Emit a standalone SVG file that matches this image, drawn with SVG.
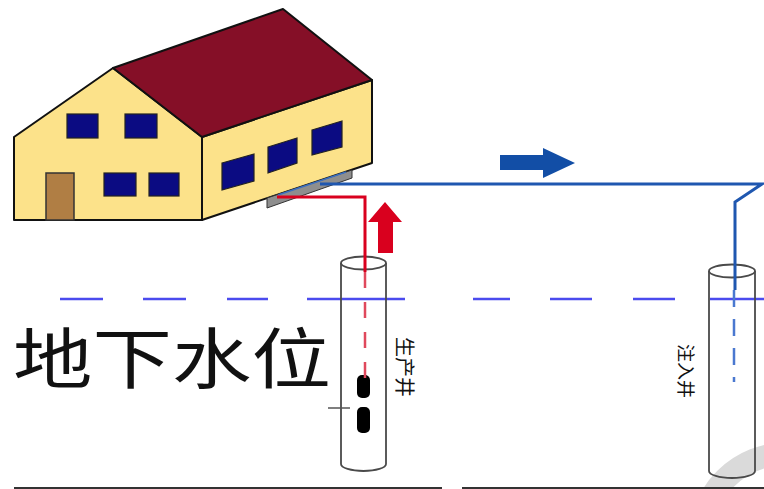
<svg xmlns="http://www.w3.org/2000/svg" width="764" height="489" viewBox="0 0 764 489">
  <style>
    .wall { fill: #fce28a; stroke: #111; stroke-width: 2; stroke-linejoin: round; }
    .roof { fill: #850f27; stroke: #111; stroke-width: 2; stroke-linejoin: round; }
    .win { fill: #0b0b82; stroke: #222; stroke-width: 1.2; }
    .well { fill: none; stroke: #4a4a4a; stroke-width: 1.8; }
    .label { font-family: "Noto Sans CJK SC", "Noto Sans", sans-serif; fill: #111; }
    .water { stroke: #4b4bee; stroke-width: 2.5; }
    .blue-pipe { fill: none; stroke: #1f57b0; stroke-width: 3; stroke-linejoin: miter; }
    .red-pipe { fill: none; stroke: #d9001e; stroke-width: 3; }
  </style>

  <rect width="764" height="489" fill="#ffffff"/>

  <!-- light grey ring in the lower right corner -->
  <circle cx="786" cy="540" r="86" fill="none" stroke="#dadada" stroke-width="23"/>

  <!-- ground line -->
  <g id="ground">
    <line x1="14" y1="488" x2="442" y2="488" stroke="#333" stroke-width="2"/>
    <line x1="462" y1="488" x2="764" y2="488" stroke="#333" stroke-width="2"/>
  </g>

  <!-- groundwater level (dashed) -->
  <g id="water-table">
    <line class="water" x1="60" y1="299" x2="103" y2="299"/>
    <line class="water" x1="143" y1="299" x2="186" y2="299"/>
    <line class="water" x1="227" y1="299" x2="268" y2="299"/>
    <line class="water" x1="307" y1="299" x2="405" y2="299"/>
    <line class="water" x1="473" y1="299" x2="510" y2="299"/>
    <line class="water" x1="550" y1="299" x2="592" y2="299"/>
    <line class="water" x1="633" y1="299" x2="675" y2="299"/>
    <line class="water" x1="710" y1="299" x2="764" y2="299"/>
  </g>

  <!-- house -->
  <g id="house">
    <!-- gable front -->
    <polygon class="wall" points="14,137 113,68 202,137 202,220 14,220"/>
    <!-- side wall -->
    <polygon class="wall" points="202,137 372,80 372,163 202,220"/>
    <!-- roof -->
    <polygon class="roof" points="113,68 283,9 372,80 202,137"/>
    <!-- front windows -->
    <rect class="win" x="67" y="114" width="31" height="24"/>
    <rect class="win" x="125" y="114" width="32" height="24"/>
    <rect class="win" x="104" y="173" width="32" height="23"/>
    <rect class="win" x="149" y="173" width="30" height="23"/>
    <!-- door -->
    <rect x="46" y="173" width="28" height="47" fill="#b07e44" stroke="#333" stroke-width="1.5"/>
    <!-- side windows -->
    <polygon class="win" points="222,163 254,154 254,181 222,190"/>
    <polygon class="win" points="268,147 297,138 297,163 268,173"/>
    <polygon class="win" points="312,130 342,121 342,147 312,155"/>
    <!-- heat pump plate under the house -->
    <polygon points="267,198 352,170 352,178 267,208" fill="#8e8e8e" stroke="#333" stroke-width="1"/>
    <line x1="278" y1="195" x2="346" y2="172" stroke="#3a6fc0" stroke-width="1.5"/>
  </g>

  <!-- production well -->
  <g id="production-well">
    <path class="well" d="M341,263 V464 A22.5,7 0 0 0 386,464 V263"/>
    <ellipse class="well" cx="363.5" cy="263" rx="22.5" ry="6.5"/>
    <line x1="328" y1="408" x2="350" y2="408" stroke="#555" stroke-width="1.5"/>
    <rect x="357" y="375" width="13" height="23" rx="5" fill="#000"/>
    <rect x="357" y="407" width="13" height="26" rx="5" fill="#000"/>
    <text class="label" font-size="20" text-anchor="middle" dominant-baseline="central" transform="translate(405,367) rotate(90)">生产井</text>
  </g>

  <!-- injection well -->
  <g id="injection-well">
    <path class="well" d="M709,271 V471 A23,7 0 0 0 755,471 V271"/>
    <ellipse class="well" cx="732" cy="271" rx="23" ry="6.5"/>
    <text class="label" font-size="18" text-anchor="middle" dominant-baseline="central" transform="translate(687,371) rotate(90)">注入井</text>
  </g>

  <!-- pipes and flow arrows -->
  <g id="connectors">
    <!-- supply line: production well up to the house -->
    <polyline class="red-pipe" points="277,197 365,197 365,272"/>
    <line x1="365" y1="272" x2="365" y2="378" stroke="#e0485c" stroke-width="2.5" stroke-dasharray="16,14"/>
    <polygon points="378,253 393,253 393,222 402,222 385,202 368,222 378,222" fill="#d9001e"/>
    <!-- return line: house over to the injection well -->
    <polyline class="blue-pipe" points="320,184 762,184 735,202 735,290"/>
    <line x1="734" y1="290" x2="734" y2="382" stroke="#4a78d0" stroke-width="2.5" stroke-dasharray="17,12"/>
    <polygon points="500,155 543,155 543,148 575,163 543,178 543,170 500,170" fill="#124ea6"/>
  </g>

  <!-- groundwater level caption -->
  <text id="title" class="label" x="13" y="383" font-size="66" textLength="318" lengthAdjust="spacingAndGlyphs">地下水位</text>
</svg>
